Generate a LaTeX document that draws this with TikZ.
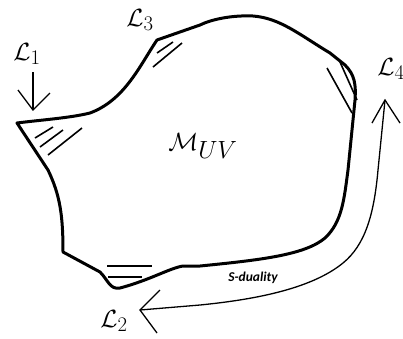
\documentclass[tikz,border=0pt]{standalone}
\usepackage{fontspec}
\newfontfamily\calib{Carlito}
\begin{document}
\begin{tikzpicture}[x=1pt,y=-1pt,
  outline/.style={line width=3pt,line join=round,line cap=round},
  hatch/.style={line width=1.6pt},
  arr/.style={line width=1.3pt},
  lbl/.style={font=\fontsize{31}{34}\selectfont,inner sep=0pt}]
\useasboundingbox (0,0) rectangle (403,338);
% outline
\draw[outline] (17,123) -- (48,170) .. controls (60,195) and (63,215) .. (63,252)
  -- (100,272) .. controls (108,280) and (110,290) .. (120,288)
  .. controls (150,280) and (170,268) .. (183,266) -- (200,266)
  .. controls (260,260) and (305,255) .. (325,238)
  .. controls (342,222) and (344,200) .. (348,170)
  -- (355,100) .. controls (356,85) and (355,75) .. (345,65)
  -- (330,53) .. controls (300,35) and (280,18) .. (253,16)
  .. controls (230,15) and (210,20) .. (200,25) -- (157,40)
  .. controls (140,65) and (125,100) .. (90,113) .. controls (70,118) and (40,120) .. (17,123) -- cycle;
% hatches
\draw[hatch] (35,138) -- (53,127);
\draw[hatch] (40,147) -- (63,130);
\draw[hatch] (48,155) -- (82,128);
\draw[hatch] (157,53) -- (173,42);
\draw[hatch] (153,67) -- (182,43);
\draw[hatch] (327,68) -- (352,113);
\draw[hatch] (340,62) -- (357,100);
\draw[hatch] (107,266) -- (152,266);
\draw[hatch] (108,277) -- (142,277);
% labels
\node[lbl] (l1) at (27,54) {$\mathcal{L}_1$};
\node[lbl] (l3) at (140,20) {$\mathcal{L}_3$};
\node[lbl] (l4) at (391,69) {$\mathcal{L}_4$};
\node[lbl] (l2) at (114,321) {$\mathcal{L}_2$};
\node[lbl,font=\fontsize{33}{36}\selectfont] (m) at (203,146) {$\mathcal{M}_{UV}$};
\node[inner sep=0pt,font=\calib\bfseries\itshape\fontsize{13.5}{15}\selectfont] (sd) at (253,278) {S-duality};
% L1 arrow
\coordinate (a1s) at (33,72);
\coordinate (a1e) at (33,110);
\draw[arr] (a1s) -- (a1e);
\draw[arr] (18,90) -- (a1e) -- (50,93);
% S-duality arrow
\coordinate (s4) at (385,100);
\coordinate (s2) at (140,310);
\draw[arr] (s4) -- (378,170) .. controls (374,215) and (365,245) .. (343,263)
  .. controls (310,290) and (250,300) .. (200,305) -- (s2);
\draw[arr] (372,123) -- (s4) -- (400,123);
\draw[arr] (160,290) -- (s2) -- (157,333);
\end{tikzpicture}
\end{document}
